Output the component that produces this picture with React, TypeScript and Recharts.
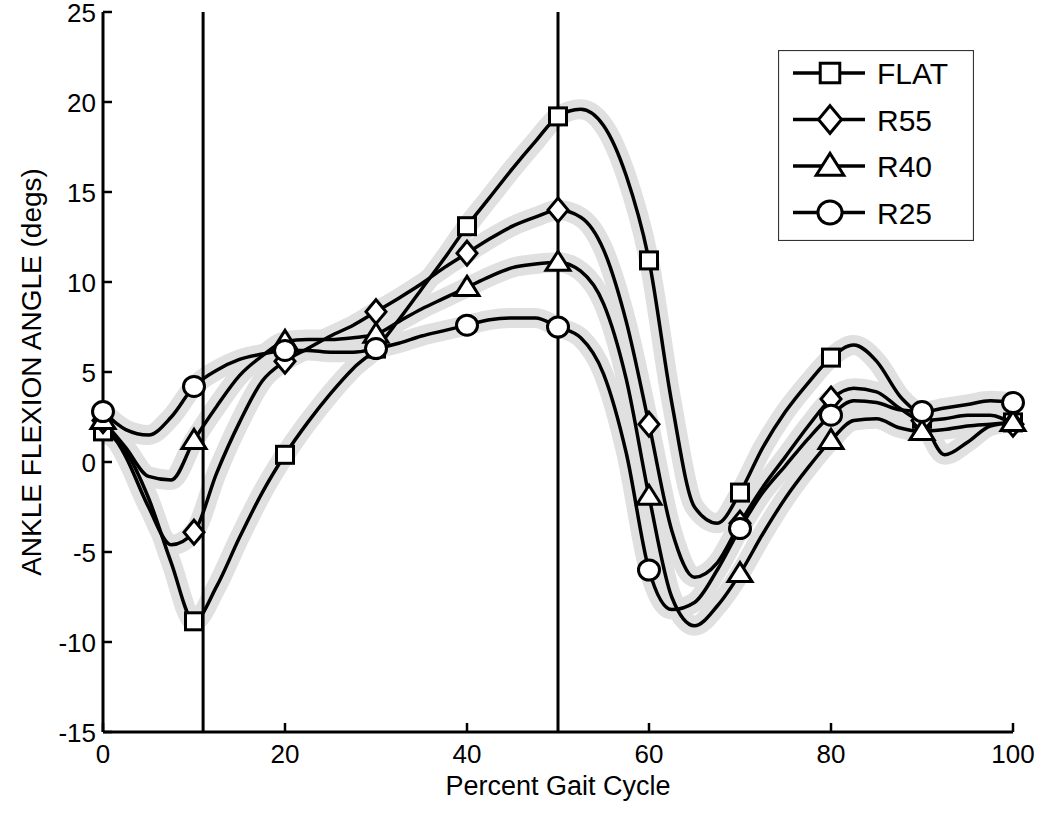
import React from 'react';
import { LineChart, Line, XAxis, YAxis, ReferenceLine, Legend } from 'recharts';

const pct = [0, 2.5, 5, 7.5, 10, 12.5, 15, 17.5, 20, 22.5, 25, 27.5, 30, 32.5, 35, 37.5, 40, 42.5, 45, 47.5, 50,
  52.5, 55, 57.5, 60, 62.5, 65, 67.5, 70, 72.5, 75, 77.5, 80, 82.5, 85, 87.5, 90, 92.5, 95, 97.5, 100];

const flat = [1.7, 0.6, -2.0, -5.6, -8.85, -6.9, -4.2, -1.7, 0.4, 2.2, 3.8, 5.2, 6.3, 7.9, 9.6, 11.3, 13.1, 14.7, 16.3, 17.8, 19.2,
  19.6, 18.7, 15.9, 11.2, 3.3, -2.5, -3.4, -1.7, 0.8, 2.8, 4.4, 5.8, 6.5, 5.6, 3.7, 2.4, 0.4, 1.1, 2.0, 2.2];
const r55 = [2.3, 0.3, -2.5, -4.6, -3.9, -0.6, 2.2, 4.5, 5.6, 6.3, 7.0, 7.6, 8.35, 9.1, 9.9, 10.8, 11.6, 12.4, 13.1, 13.6, 14.0,
  13.6, 11.8, 7.8, 2.1, -3.8, -6.4, -5.6, -3.4, -1.4, 0.3, 2.0, 3.5, 4.1, 3.9, 3.0, 2.3, 2.4, 2.6, 2.6, 2.1];
const r40 = [2.3, 0.8, -0.8, -1.0, 1.2, 3.1, 4.8, 5.9, 6.7, 6.8, 6.8, 6.9, 7.1, 7.8, 8.5, 9.1, 9.7, 10.3, 10.8, 11.0, 11.1,
  10.6, 8.8, 4.6, -1.9, -7.5, -9.1, -8.0, -6.2, -4.0, -2.0, -0.3, 1.2, 2.3, 2.4, 1.9, 1.7, 1.8, 2.0, 2.1, 2.2];
const r25 = [2.8, 1.8, 1.5, 2.5, 4.2, 5.1, 5.7, 6.0, 6.2, 6.2, 6.1, 6.1, 6.3, 6.6, 7.0, 7.3, 7.6, 7.9, 8.0, 8.0, 7.5,
  6.9, 4.9, 0.5, -6.0, -8.2, -7.8, -6.0, -3.7, -1.7, -0.2, 1.3, 2.6, 3.4, 3.3, 2.9, 2.8, 3.0, 3.2, 3.4, 3.3];

const xTicks = [0, 20, 40, 60, 80, 100];
const yTicks = [-15, -10, -5, 0, 5, 10, 15, 20, 25];
const phaseLines = [11, 50];

const series = [
  { key: 'flat', name: 'FLAT', shape: 'square' },
  { key: 'r55', name: 'R55', shape: 'diamond' },
  { key: 'r40', name: 'R40', shape: 'triangle' },
  { key: 'r25', name: 'R25', shape: 'circle' },
];

const data = pct.map((p, i) => ({ pct: p, flat: flat[i], r55: r55[i], r40: r40[i], r25: r25[i] }));

const FONT = '"Liberation Sans", Arial, sans-serif';

const marker = (shape: string, cx: number, cy: number, k: string, s = 1) => {
  const common = { fill: '#fff', stroke: '#000', strokeWidth: 3, key: k };
  if (shape === 'square') return <rect {...common} x={cx - 8.5 * s} y={cy - 8.5 * s} width={17 * s} height={17 * s} />;
  if (shape === 'diamond')
    return <polygon {...common} points={`${cx},${cy - 12 * s} ${cx + 10 * s},${cy} ${cx},${cy + 12 * s} ${cx - 10 * s},${cy}`} />;
  if (shape === 'triangle')
    return <polygon {...common} points={`${cx},${cy - 11 * s} ${cx + 12 * s},${cy + 8 * s} ${cx - 12 * s},${cy + 8 * s}`} />;
  return <ellipse {...common} cx={cx} cy={cy} rx={10.5 * s} ry={10 * s} />;
};

const dotFor = (shape: string) => (props: any) => {
  const { cx, cy, payload, index } = props;
  if (payload.pct % 10 !== 0) return <g key={`e-${shape}-${index}`} />;
  return marker(shape, cx, cy, `m-${shape}-${index}`);
};

const BottomTick = (props: any) => {
  const { x, y, payload } = props;
  return (
    <g>
      <line x1={x} x2={x} y1={y} y2={y - 9} stroke="#000" strokeWidth={2.5} />
      <text x={x} y={y + 31} textAnchor="middle" fontFamily={FONT} fontSize={26} fill="#000">{payload.value}</text>
    </g>
  );
};

const TopTick = (props: any) => {
  const { x, y } = props;
  return <line x1={x} x2={x} y1={y} y2={y + 9} stroke="#000" strokeWidth={2.5} />;
};

const LeftTick = (props: any) => {
  const { x, y, payload } = props;
  return (
    <g>
      <line x1={x} x2={x + 9} y1={y} y2={y} stroke="#000" strokeWidth={2.5} />
      <text x={x - 7} y={y + 10} textAnchor="end" fontFamily={FONT} fontSize={26} fill="#000">{payload.value}</text>
    </g>
  );
};

const RightTick = (props: any) => {
  const { x, y } = props;
  return <line x1={x} x2={x - 9} y1={y} y2={y} stroke="#000" strokeWidth={2.5} />;
};

const renderLegend = () => (
  <svg width={196} height={191} style={{ display: 'block' }}>
    <rect x={0.5} y={0.5} width={195} height={190} fill="#fff" stroke="#333" strokeWidth={1.2} />
    {series.map((s, i) => {
      const cy = 23 + i * 46.5;
      return (
        <g key={s.key}>
          <line x1={15} x2={87} y1={cy} y2={cy} stroke="#000" strokeWidth={3.5} />
          {marker(s.shape, 52, cy, `lg-${s.key}`, 1.15)}
          <text x={99} y={cy + 11} fontFamily={FONT} fontSize={30} fill="#000">{s.name}</text>
        </g>
      );
    })}
  </svg>
);

export default function App() {
  return (
    <div style={{ position: 'absolute', left: 0, top: 0, width: 1050, height: 817, background: '#fff' }}>
      <LineChart width={1050} height={817} data={data} margin={{ top: 12, right: 37, bottom: 0, left: 0 }}>
        <XAxis
          dataKey="pct" type="number" domain={[0, 100]} ticks={xTicks} height={85}
          tickSize={0} tickMargin={0} tickLine={false} tick={<BottomTick />}
          axisLine={{ stroke: '#000', strokeWidth: 3 }}
          label={{ value: 'Percent Gait Cycle', position: 'insideBottom', offset: 22, fontFamily: FONT, fontSize: 27, fill: '#000' }}
        />
        <XAxis
          xAxisId="top" orientation="top" dataKey="pct" type="number" domain={[0, 100]} ticks={xTicks} height={0}
          tickSize={0} tickMargin={0} tickLine={false} tick={<TopTick />}
          axisLine={{ stroke: '#000', strokeWidth: 3 }}
        />
        <YAxis
          type="number" domain={[-15, 25]} ticks={yTicks} width={103}
          tickSize={0} tickMargin={0} tickLine={false} tick={<LeftTick />}
          axisLine={{ stroke: '#000', strokeWidth: 3 }}
          label={{ value: 'ANKLE FLEXION ANGLE (degs)', angle: -90, position: 'insideLeft', offset: 31, fontFamily: FONT, fontSize: 28, fill: '#000', style: { textAnchor: 'middle' } }}
        />
        <YAxis
          yAxisId="right" orientation="right" type="number" domain={[-15, 25]} ticks={yTicks} width={0}
          tickSize={0} tickMargin={0} tickLine={false} tick={<RightTick />}
          axisLine={{ stroke: '#000', strokeWidth: 3 }}
        />
        {series.map((s) => (
          <Line
            key={`band-${s.key}`} dataKey={s.key} type="monotone" stroke="#e0e0e0" strokeWidth={20}
            strokeLinecap="round" strokeLinejoin="round" dot={false} activeDot={false} legendType="none" isAnimationActive={false}
          />
        ))}
        {series.map((s) => (
          <Line
            key={s.key} dataKey={s.key} name={s.name} type="monotone" stroke="#000" strokeWidth={3.5}
            dot={dotFor(s.shape)} activeDot={false} isAnimationActive={false}
          />
        ))}
        {phaseLines.map((x) => (
          <ReferenceLine key={x} x={x} stroke="#000" strokeWidth={3} />
        ))}
        <Legend
          content={renderLegend} layout="vertical" verticalAlign="middle" align="center"
          wrapperStyle={{ left: 778, top: 50, width: 196, height: 191 }}
        />
      </LineChart>
    </div>
  );
}
